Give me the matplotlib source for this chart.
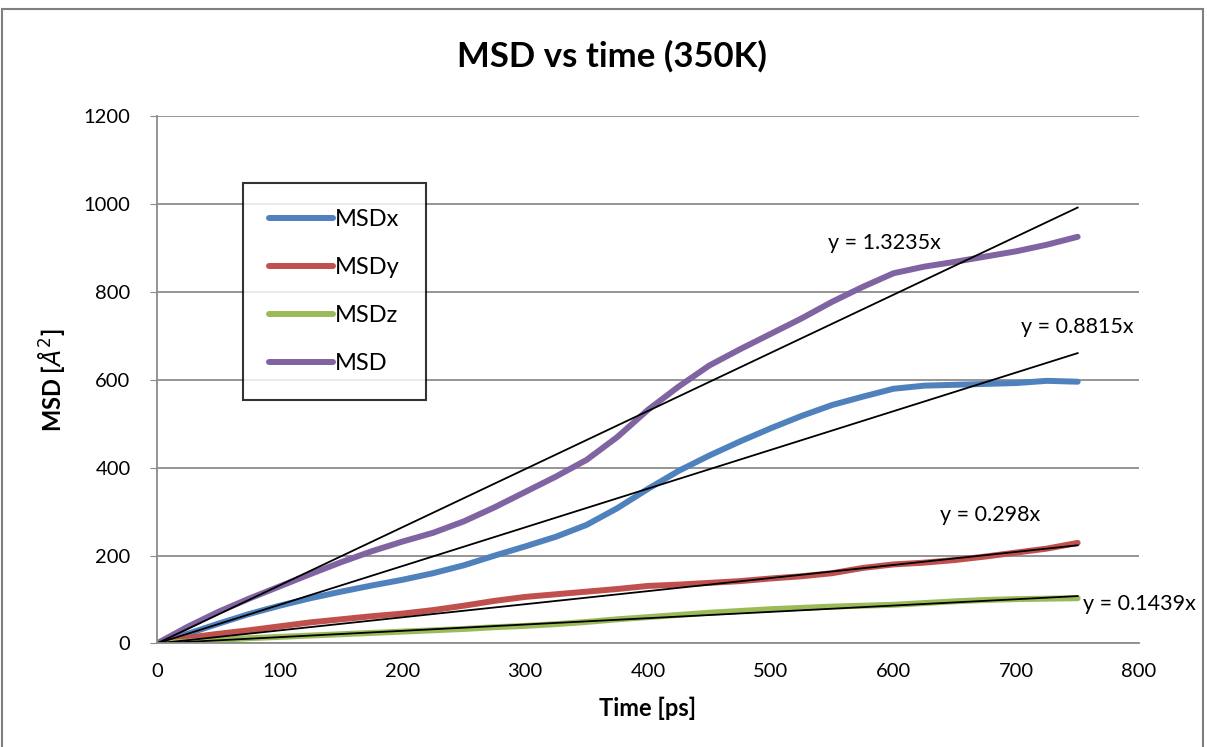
import matplotlib
matplotlib.use("Agg")
import matplotlib.pyplot as plt
from matplotlib.patches import Rectangle

plt.rcParams['font.family'] = ['Lato', 'DejaVu Sans']

# time axis (ps)
time = [0, 25, 50, 75, 100, 125, 150, 175, 200, 225, 250, 275, 300, 325, 350,
        375, 400, 425, 450, 475, 500, 525, 550, 575, 600, 625, 650, 675, 700,
        725, 750]

msd_x = [0, 22, 45, 67, 86, 103, 118, 132, 145, 160, 178, 200, 221, 243, 270,
         308, 352, 393, 428, 460, 490, 518, 543, 562, 580, 587, 589, 591, 593,
         598, 596]
msd_y = [0, 13, 22, 30, 39, 48, 55, 62, 68, 76, 86, 97, 106, 112, 118,
         124, 131, 134, 138, 142, 148, 153, 160, 172, 180, 184, 190, 198, 207,
         216, 229]
msd_z = [0, 4, 8, 12, 15, 18, 21, 24, 27, 30, 33, 37, 40, 44, 49,
         55, 60, 65, 70, 74, 78, 81, 84, 86, 88, 92, 96, 99, 101, 102, 103]
msd = [0, 38, 72, 102, 130, 158, 185, 210, 232, 252, 278, 310, 345, 380, 418,
       470, 532, 585, 633, 670, 705, 740, 778, 812, 843, 858, 869, 881, 893,
       908, 926]

# linear fits through origin
slopes = [0.8815, 0.298, 0.1439, 1.3235]
fit_labels = ['y = 0.8815x', 'y = 0.298x', 'y = 0.1439x', 'y = 1.3235x']
label_pos = [(750, 721), (679, 293), (800, 90), (593, 912)]

series = [('MSDx', msd_x, '#4F81BD'), ('MSDy', msd_y, '#C0504D'),
          ('MSDz', msd_z, '#9BBB59'), ('MSD', msd, '#8064A2')]

fig = plt.figure(figsize=(12.07, 7.47), dpi=100)
ax = fig.add_axes([0.130, 0.1386, 0.8137, 0.7055])

for name, vals, col in series:
    ax.plot(time, vals, color=col, lw=4.3, label=name, solid_capstyle='round')

t_end = time[-1]
for s, txt, pos in zip(slopes, fit_labels, label_pos):
    ax.plot([0, t_end], [0, s * t_end], color='black', lw=1.3)
    ax.text(pos[0], pos[1], txt, fontsize=15.5, ha='center', va='center',
            clip_on=False)

ax.set_xlim(0, 800)
ax.set_ylim(0, 1200)
ax.set_xticks(range(0, 801, 100))
ax.set_yticks(range(0, 1201, 200))
ax.yaxis.grid(True, color='#8c8c8c', lw=1.3)
ax.set_axisbelow(True)
for sp in ['top', 'right']:
    ax.spines[sp].set_visible(False)
for sp in ['left', 'bottom']:
    ax.spines[sp].set_color('#8c8c8c')
    ax.spines[sp].set_linewidth(1.3)
ax.tick_params(axis='x', length=0, pad=14, labelsize=14.5)
ax.tick_params(axis='y', length=5, color='#8c8c8c', pad=14, labelsize=14.5)

ax.set_title('MSD vs time (350K)', fontsize=25, fontweight='bold', pad=36,
             x=0.463)
ax.set_xlabel('Time [ps]', fontsize=17, fontweight='bold', labelpad=12)
ax.set_ylabel(r'MSD [$\AA^2$]', fontsize=17, fontweight='bold', labelpad=12)

leg = ax.legend(loc='upper left', bbox_to_anchor=(0.0876, 0.874),
                fontsize=17, frameon=True, fancybox=False, edgecolor='black',
                handlelength=2.7, handletextpad=0.1, labelspacing=1.15,
                borderpad=1.1, borderaxespad=0)
leg.get_frame().set_linewidth(1.5)

fig.patches.append(Rectangle((0.002, -0.01), 0.995, 0.998,
                             transform=fig.transFigure, fill=False,
                             edgecolor='#7f7f7f', lw=1.5))

fig.savefig('out.png', dpi=100)
